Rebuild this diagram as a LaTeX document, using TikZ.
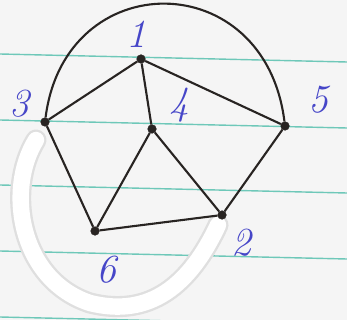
\documentclass[tikz,border=0pt]{standalone}
\usetikzlibrary{positioning}
\definecolor{ink}{RGB}{40,36,34}
\definecolor{pen}{RGB}{70,70,200}
\definecolor{rule}{RGB}{110,200,185}
\begin{document}
\begin{tikzpicture}[x=0.03cm, y=-0.03cm, font=\fontsize{34}{36}\selectfont\itshape]
    \tikzset{vertex/.style={circle,draw=ink,fill=ink,inner sep=2.6pt},
             edge/.style={draw=ink,line width=1.8pt},
             num/.style={text=pen}}
    \useasboundingbox (0,0) rectangle (347,320);
    \fill[white!96!black] (0,0) rectangle (347,320);

    % Ruled paper lines
    \foreach \y in {54,120,185,251,317}
        \draw[rule, line width=1.2pt] (0,\y) -- (347,\y+8);

    % Correction fluid over the erased edge
    \draw[gray!25, line width=18pt, line cap=round]
        (36,140) .. controls (5,190) and (20,280) .. (90,303)
        .. controls (150,318) and (190,285) .. (218,225);
    \draw[white, line width=14pt, line cap=round]
        (36,140) .. controls (5,190) and (20,280) .. (90,303)
        .. controls (150,318) and (190,285) .. (218,225);

    % Vertices
    \node[vertex] (v1) at (141,59) {};
    \node[vertex] (v3) at (45,122) {};
    \node[vertex] (v4) at (152,129) {};
    \node[vertex] (v5) at (285,126) {};
    \node[vertex] (v6) at (95,231) {};
    \node[vertex] (v2) at (222,215) {};

    % Edges
    \draw[edge] (v1) -- (v3);
    \draw[edge] (v1) -- (v4);
    \draw[edge] (v1) -- (v5);
    \draw[edge] (v3) -- (v6);
    \draw[edge] (v4) -- (v6);
    \draw[edge] (v4) -- (v2);
    \draw[edge] (v6) -- (v2);
    \draw[edge] (v5) -- (v2);
    \draw[edge] (v3) .. controls (65,-35) and (265,-35) .. (v5);

    % Vertex labels
    \node[num] (l1) at (136,34) {1};
    \node[num] (l3) at (19,104) {3};
    \node[num] (l4) at (179,105) {4};
    \node[num] (l5) at (318,100) {5};
    \node[num] (l6) at (106,270) {6};
    \node[num] (l2) at (241,243) {2};
\end{tikzpicture}
\end{document}
